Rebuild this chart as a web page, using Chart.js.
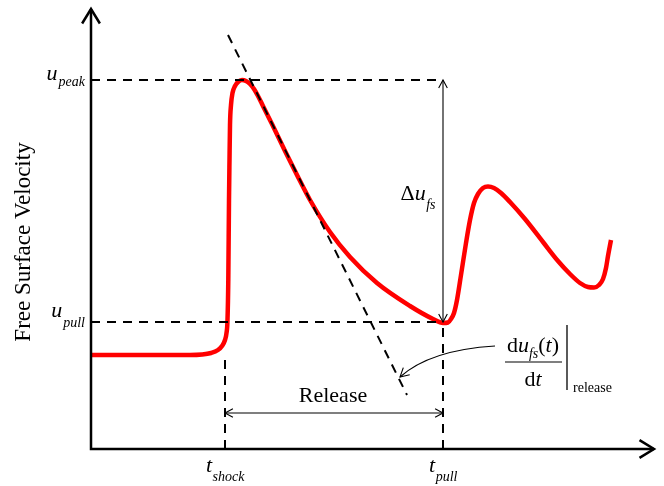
<!DOCTYPE html>
<html><head><meta charset="utf-8">
<script src="https://cdn.jsdelivr.net/npm/chart.js@4"></script>
<style>html,body{margin:0;padding:0;background:#fff}#wrap{width:664px;height:486px}</style>
</head><body><div id="wrap"><canvas id="c" width="664" height="486"></canvas></div>
<script>
// Schematic free surface velocity history (arbitrary units)
const timeValues = [0,59,99,111,120,127,131,134,135.5,136.5,137.3,138,138.5,139,140,141.5,144,147,151,155,159,163,167,171,181,194,207,219,239,259,286,319,342,352,357,360,363,366,370,375,379,383,387,392,397,403,410,419,434,452,467,479,489,497,503,508,512,515,517,520];
const velocityValues = [94,94,94,94.5,96,99,103,109,116,129,169,249,289,324,344,356,363,367,369,368,365,360,353,345,325,298,272,249,217,192,166,143,130,126,126.5,130,136,149,174,206,229,246,255,261,262.5,261,256,247,230,207,188,175,166,162,161.5,164,170,181,193,209];
const tShock = 134, tPull = 352;          // time markers
const uPeak = 369, uPull = 127;           // velocity markers
const tangentT = [137, 316];              // release slope line
const tangentU = [414, 54];
const releaseArrowU = 36;
const slopeArrowT = [404, 339, 309];      // start, control, end
const slopeArrowU = [103, 99, 72];
const tTickLabels = [['t','shock'],['t','pull']];
const uTickLabels = [['u','peak'],['u','pull']];
const axisTitle = 'Free Surface Velocity';
const releaseLabel = 'Release';

const SERIF = '"Liberation Serif","Times New Roman",serif';
const dash = {borderColor:'#000',borderWidth:2,borderDash:[9,7],pointRadius:0,tension:0,clip:false,order:1,fill:false};
const thin = {borderColor:'#000',borderWidth:1.1,pointRadius:0,tension:0,clip:false,order:1,fill:false};

const datasets = [
  Object.assign({data:[{x:0,y:uPeak},{x:tPull,y:uPeak}]}, dash),
  Object.assign({data:[{x:0,y:uPull},{x:tPull,y:uPull}]}, dash),
  Object.assign({data:[{x:tShock,y:0},{x:tShock,y:89}]}, dash),
  Object.assign({data:[{x:tPull,y:0},{x:tPull,y:uPull}]}, dash),
  Object.assign({data:[{x:tangentT[0],y:tangentU[0]},{x:tangentT[1],y:tangentU[1]}]}, dash),
  Object.assign({data:[{x:tPull,y:uPull},{x:tPull,y:uPeak}]}, thin),
  Object.assign({data:[{x:tShock,y:releaseArrowU},{x:tPull,y:releaseArrowU}]}, thin),
  {data: timeValues.map((t,i)=>({x:t,y:velocityValues[i]})), borderColor:'#ff0000', borderWidth:4.5,
   cubicInterpolationMode:'monotone', pointRadius:0, borderCapStyle:'butt', borderJoinStyle:'round', clip:false, order:2, fill:false}
];

function head(ctx, tx, ty, dx, dy, len, spread){
  const a = Math.atan2(dy, dx);
  ctx.beginPath();
  ctx.moveTo(tx - len*Math.cos(a - spread), ty - len*Math.sin(a - spread));
  ctx.lineTo(tx, ty);
  ctx.lineTo(tx - len*Math.cos(a + spread), ty - len*Math.sin(a + spread));
  ctx.stroke();
}
function w(ctx, s, font){ ctx.font = font; return ctx.measureText(s).width; }
function put(ctx, s, x, y, font){ ctx.font = font; ctx.textAlign='left'; ctx.textBaseline='alphabetic'; ctx.fillText(s, x, y); return ctx.measureText(s).width; }

const MAIN = 'italic 22px '+SERIF, SUB = 'italic 14px '+SERIF, UP = '22px '+SERIF, UPS = '14px '+SERIF;

const overlay = {
  id:'overlay',
  afterDraw(chart){
    const ctx = chart.ctx, xs = chart.scales.x, ys = chart.scales.y, ca = chart.chartArea;
    const X = v => xs.getPixelForValue(v), Y = v => ys.getPixelForValue(v);
    ctx.save();
    ctx.strokeStyle = '#000'; ctx.fillStyle = '#000';
    // axes
    ctx.lineWidth = 2.5; ctx.lineCap = 'butt';
    ctx.beginPath(); ctx.moveTo(X(0), ca.top); ctx.lineTo(X(0), Y(0)); ctx.lineTo(ca.right, Y(0)); ctx.stroke();
    ctx.lineJoin = 'miter';
    head(ctx, X(0), ca.top, 0, -1, 17, 0.55);
    head(ctx, ca.right, Y(0), 1, 0, 17, 0.55);
    // thin arrow heads
    ctx.lineWidth = 1.1;
    head(ctx, X(tPull), Y(uPeak), 0, -1, 9, 0.5);
    head(ctx, X(tPull), Y(uPull), 0, 1, 9, 0.5);
    head(ctx, X(tShock), Y(releaseArrowU), -1, 0, 9, 0.5);
    head(ctx, X(tPull), Y(releaseArrowU), 1, 0, 9, 0.5);
    // curved slope arrow
    const sx=X(slopeArrowT[0]), sy=Y(slopeArrowU[0]), cx=X(slopeArrowT[1]), cy=Y(slopeArrowU[1]), ex=X(slopeArrowT[2]), ey=Y(slopeArrowU[2]);
    ctx.beginPath(); ctx.moveTo(sx,sy); ctx.quadraticCurveTo(cx,cy,ex,ey); ctx.stroke();
    head(ctx, ex, ey, ex-cx, ey-cy, 10, 0.5);
    // y marker labels
    const uOff = [[0,6],[-5,5]];
    uTickLabels.forEach((lab,i)=>{
      const uy = Y([uPeak,uPull][i]);
      const tot = w(ctx, lab[0], MAIN) + w(ctx, lab[1], SUB);
      let x0 = X(0) - 7 - tot;
      x0 += put(ctx, lab[0], x0, uy + uOff[i][0], MAIN);
      put(ctx, lab[1], x0 + 1, uy + uOff[i][1], SUB);
    });
    // x marker labels
    tTickLabels.forEach((lab,i)=>{
      const tx = X([tShock,tPull][i]);
      const tot = w(ctx, lab[0], MAIN) + w(ctx, lab[1], SUB);
      let x0 = tx - tot/2;
      x0 += put(ctx, lab[0], x0, 472, MAIN);
      put(ctx, lab[1], x0 + 0.5, 481, SUB);
    });
    // axis title
    ctx.save(); ctx.translate(30, 242); ctx.rotate(-Math.PI/2);
    ctx.font = '23px '+SERIF; ctx.textAlign='center'; ctx.textBaseline='alphabetic';
    ctx.fillText(axisTitle, 0, 0); ctx.restore();
    // Release
    ctx.font = '22px '+SERIF; ctx.textAlign='center';
    ctx.fillText(releaseLabel, (X(tShock)+X(tPull))/2 - 1, Y(releaseArrowU) - 11);
    // Delta u_fs
    {
      const by = Y((uPeak+uPull)/2) - 1;
      const tot = w(ctx,'\u0394',UP) + w(ctx,'u',MAIN) + w(ctx,'fs',SUB);
      let x0 = X(tPull) - 8 - tot;
      x0 += put(ctx,'\u0394',x0,by,UP);
      x0 += put(ctx,'u',x0,by,MAIN);
      put(ctx,'fs',x0+0.5,by+9,SUB);
    }
    // fraction du_fs(t)/dt | release
    {
      const cxm = 533, nb = 352, bar = 362, db = 386;
      const parts = [['d',UP,0],['u',MAIN,0],['fs',SUB,6],['(',UP,0],['t',MAIN,0],[')',UP,0]];
      let tot = 0; parts.forEach(p=>tot += w(ctx,p[0],p[1]));
      let x0 = cxm - tot/2;
      parts.forEach(p=>{ x0 += put(ctx,p[0],x0,nb+p[2],p[1]); });
      ctx.lineWidth = 1.2;
      ctx.beginPath(); ctx.moveTo(505,bar); ctx.lineTo(562,bar); ctx.stroke();
      const dw = w(ctx,'d',UP) + w(ctx,'t',MAIN);
      let x1 = cxm - dw/2;
      x1 += put(ctx,'d',x1,db,UP); put(ctx,'t',x1,db,MAIN);
      ctx.lineWidth = 1.3;
      ctx.beginPath(); ctx.moveTo(567,325); ctx.lineTo(567,390); ctx.stroke();
      put(ctx,'release',573,392,UPS);
    }
    ctx.restore();
  }
};

new Chart(document.getElementById('c'), {
  type:'line',
  data:{datasets},
  options:{
    responsive:false, animation:false, devicePixelRatio:1,
    layout:{padding:{left:91,right:10,top:9,bottom:37}},
    plugins:{legend:{display:false},tooltip:{enabled:false}},
    scales:{
      x:{type:'linear',min:0,max:563,display:false},
      y:{type:'linear',min:0,max:440,display:false}
    }
  },
  plugins:[overlay]
});
</script></body></html>
